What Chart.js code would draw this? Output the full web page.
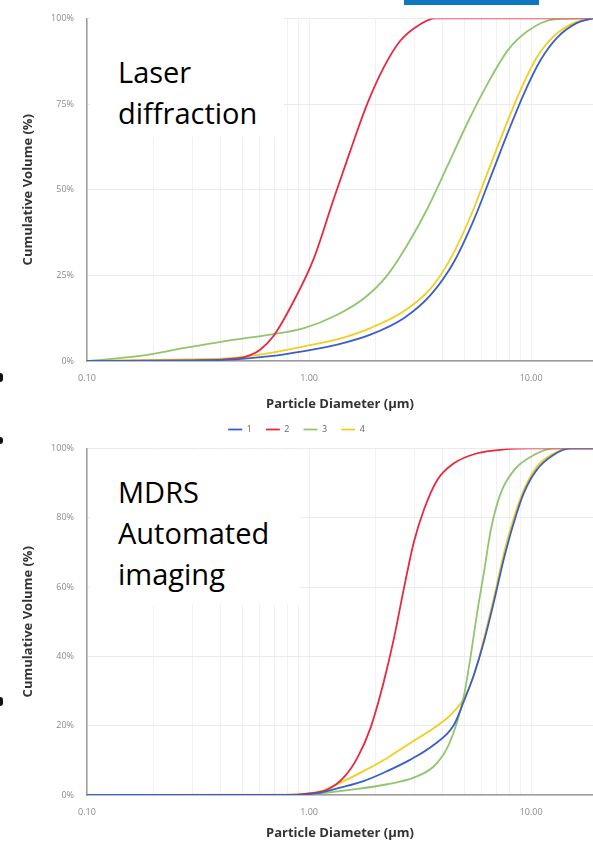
<!DOCTYPE html>
<html>
<head>
<meta charset="utf-8">
<script src="https://cdn.jsdelivr.net/npm/chart.js@4.4.0/dist/chart.umd.min.js"></script>
<style>
  html, body { margin:0; padding:0; background:#fff; overflow:hidden; }
  #wrap { position:relative; width:593px; height:844px; }
  canvas { position:absolute; left:0; }
  .note { position:absolute; box-sizing:border-box; background:#fff; color:#000;
          font-family:'Open Sans', sans-serif; font-size:29px; line-height:41px; padding-left:28px; }
  .mark { position:absolute; left:0; width:3px; background:#111; border-radius:0 3px 3px 0; }
</style>
</head>
<body>
<div id="wrap">
  <div style="position:absolute;left:404px;top:0;width:135px;height:5px;background:#0d77c0"></div>
  <canvas id="chart-laser" width="593" height="444" style="top:0"></canvas>
  <canvas id="chart-mdrs"  width="593" height="414" style="top:430px"></canvas>
  <div class="note" style="left:90px;top:15px;width:194px;height:122px;padding-top:36px">Laser<br>diffraction</div>
  <div class="note" style="left:90px;top:450px;width:210px;height:155px;padding-top:21px">MDRS<br>Automated<br>imaging</div>
  <div class="mark" style="top:373px;height:9px"></div>
  <div class="mark" style="top:437px;height:7px"></div>
  <div class="mark" style="top:697px;height:9px"></div>
</div>

<script>
/* ── DATOS: curvas acumuladas (diámetro µm → % volumen) ── */
const SERIES    = ['1', '2', '3', '4'];
const COLORES   = ['#3b5fc9', '#e8293e', '#93c46e', '#f2cf1d'];

// Laser diffraction
const LD_X1 = [0.1, 0.3, 0.47, 0.67, 0.95, 1.34, 1.89, 2.67, 3.53, 4.49, 5.54, 6.59, 7.84, 9.28, 11.0, 13.1, 16.1, 19];
const LD_Y1 = [0, 0.2, 0.5, 1.4, 2.9, 4.8, 7.7, 12.5, 19.3, 28.9, 41.4, 53.9, 66.5, 78, 87.7, 94.4, 98.7, 100];
const LD_X2 = [0.1, 0.3, 0.44, 0.52, 0.6, 0.69, 0.85, 1.05, 1.29, 1.54, 1.83, 2.17, 2.57, 3.17, 3.7, 19];
const LD_Y2 = [0, 0.1, 0.6, 1.3, 3.2, 7.2, 17.3, 29.9, 47.2, 61.7, 75.1, 85.7, 93.4, 98.3, 100, 100];
const LD_X3 = [0.1, 0.17, 0.28, 0.47, 0.67, 0.95, 1.34, 1.77, 2.25, 2.76, 3.4, 4.19, 5.16, 6.36, 7.84, 9.65, 12.7, 19];
const LD_Y3 = [0, 1.4, 3.9, 6.3, 7.7, 9.6, 13.5, 18.3, 25, 33.7, 44.3, 56.8, 69.4, 80.9, 90.6, 96.3, 99.7, 100];
const LD_X4 = [0.1, 0.28, 0.47, 0.67, 0.95, 1.34, 1.89, 2.67, 3.53, 4.34, 5.35, 6.36, 7.55, 8.95, 10.6, 12.7, 15.6, 19];
const LD_Y4 = [0, 0.5, 1.0, 2.4, 4.3, 6.3, 9.6, 14.5, 21.2, 29.9, 42.4, 54.9, 67.4, 79, 88.6, 94.9, 98.7, 100];

// MDRS automated imaging
const MD_X1 = [0.1, 0.8, 0.98, 1.13, 1.38, 1.76, 2.25, 2.86, 3.65, 4.49, 4.97, 5.52, 6.12, 6.79, 7.53, 8.35, 9.27, 10.6, 12.6, 15.0, 19];
const MD_Y1 = [0, 0, 0.2, 0.7, 2.1, 4.0, 6.9, 10.2, 14.5, 20.2, 26.9, 34.6, 44.1, 55.6, 68, 78.5, 87.1, 93.8, 98.1, 100, 100];
const MD_X2 = [0.1, 0.8, 0.98, 1.21, 1.43, 1.65, 1.89, 2.17, 2.41, 2.67, 2.96, 3.29, 3.78, 4.49, 5.72, 7.55, 10, 19];
const MD_Y2 = [0, 0, 0.4, 1.6, 5.0, 10.7, 19.3, 32.7, 45.1, 59.4, 72.8, 82.3, 90.9, 95.7, 98.6, 99.7, 100, 100];
const MD_X3 = [0.1, 0.85, 1.21, 1.59, 2.25, 2.96, 3.65, 4.19, 4.65, 4.99, 5.35, 5.72, 6.13, 6.59, 7.3, 8.4, 9.97, 12.7, 19];
const MD_Y3 = [0, 0, 0.7, 1.6, 3.1, 5.0, 8.3, 13.6, 21.2, 28.8, 40.3, 52.7, 64.2, 76.6, 87.1, 93.8, 97.6, 100, 100];
const MD_X4 = [0.1, 0.8, 1.13, 1.38, 1.76, 2.25, 2.86, 3.65, 4.34, 4.99, 5.54, 6.13, 6.83, 7.55, 8.4, 9.28, 10.6, 12.7, 15.0, 19];
const MD_Y4 = [0, 0.1, 1.1, 3.5, 6.9, 10.7, 15, 19.3, 23.1, 27.9, 34.6, 45.1, 57.5, 69.9, 80.4, 88.1, 94.7, 98.6, 100, 100];

const X_TICKS  = [0.1, 0.2, 0.3, 0.4, 0.5, 0.6, 0.7, 0.8, 0.9, 1, 2, 3, 4, 5, 6, 7, 8, 9, 10];
const X_LABELS = { 0.1: '0.10', 1: '1.00', 10: '10.00' };
const LD_Y_STEP = 25;
const MD_Y_STEP = 20;
const X_TITLE = 'Particle Diameter (µm)';
const Y_TITLE = 'Cumulative Volume (%)';

const FONT = "'Open Sans', sans-serif";

function datasets(xs, ys) {
  return SERIES.map((s, i) => ({
    label: s,
    data: xs[i].map((x, j) => ({ x, y: ys[i][j] })),
    borderColor: COLORES[i],
    backgroundColor: COLORES[i],
    borderWidth: 1.8,
    pointRadius: 0,
    cubicInterpolationMode: 'monotone',
    fill: false
  }));
}

function opciones(yStep, padTop, padBottom, xHeight, legend) {
  return {
    responsive: false,
    animation: false,
    layout: { padding: { top: padTop, right: 0, left: 0, bottom: padBottom } },
    plugins: {
      tooltip: { enabled: false },
      legend: {
        display: legend,
        position: 'bottom',
        labels: { usePointStyle: true, pointStyle: 'line', pointStyleWidth: 14, padding: 14,
                  color: '#666', font: { family: FONT, size: 9 } }
      }
    },
    scales: {
      x: {
        type: 'logarithmic', min: 0.1, max: 19,
        afterBuildTicks: s => { s.ticks = X_TICKS.map(v => ({ value: v })); },
        afterFit: s => { s.height = xHeight; },
        ticks: { autoSkip: false, maxRotation: 0, padding: 12, color: '#8a8a8a',
                 font: { family: FONT, size: 9 },
                 callback: v => X_LABELS[v] || '' },
        grid: { color: '#f1f1f1', drawTicks: false },
        border: { color: '#9c9c9c', width: 1.5 },
        title: { display: true, text: X_TITLE, color: '#333', padding: 0,
                 font: { family: FONT, size: 13, weight: 'bold', lineHeight: 1 } }
      },
      y: {
        min: 0, max: 100,
        afterFit: s => { s.width = 87; },
        ticks: { stepSize: yStep, padding: 13, color: '#8a8a8a',
                 font: { family: FONT, size: 9 }, callback: v => v + '%' },
        grid: { color: '#ebebeb', drawTicks: false },
        border: { color: '#9c9c9c', width: 1.5 },
        title: { display: true, text: Y_TITLE, color: '#333', padding: { top: 20, bottom: 0 },
                 font: { family: FONT, size: 13, weight: 'bold', lineHeight: 1.2 } }
      }
    }
  };
}

new Chart(document.getElementById('chart-laser'), {
  type: 'line',
  data: { datasets: datasets([LD_X1, LD_X2, LD_X3, LD_X4], [LD_Y1, LD_Y2, LD_Y3, LD_Y4]) },
  options: opciones(LD_Y_STEP, 14, 0, 50, true)
});

new Chart(document.getElementById('chart-mdrs'), {
  type: 'line',
  data: { datasets: datasets([MD_X1, MD_X2, MD_X3, MD_X4], [MD_Y1, MD_Y2, MD_Y3, MD_Y4]) },
  options: opciones(MD_Y_STEP, 15, 4, 45, false)
});
</script>
</body>
</html>
